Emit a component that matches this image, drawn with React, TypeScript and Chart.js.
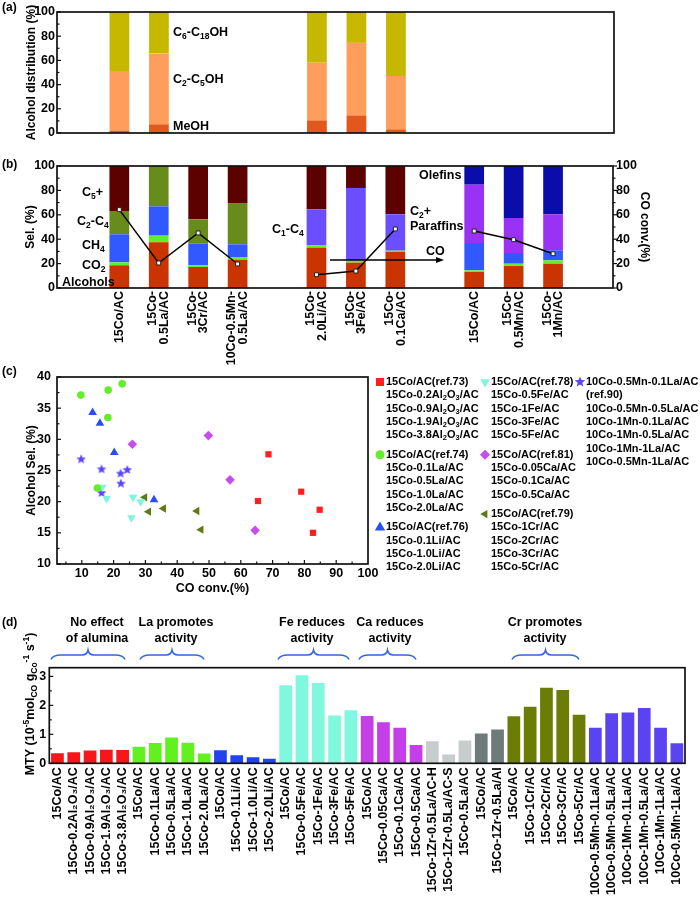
import React, { useEffect, useRef } from 'react';
import { Chart, registerables } from 'chart.js';

Chart.register(...registerables);

const FONT = '"Liberation Sans", Arial, Helvetica, sans-serif';
Chart.defaults.font.family = FONT;
Chart.defaults.font.weight = 'bold' as any;
Chart.defaults.color = '#000';

// ================= DATA =================
// (a) & (b) categories (null = empty slot)
const bCategories: (string[] | null)[] = [
  ['15Co/AC'], ['15Co-', '0.5La/AC'], ['15Co-', '3Cr/AC'], ['10Co-0.5Mn-', '0.5La/AC'], null,
  ['15Co-', '2.0Li/AC'], ['15Co-', '3Fe/AC'], ['15Co-', '0.1Ca/AC'], null,
  ['15Co/AC'], ['15Co-', '0.5Mn/AC'], ['15Co-', '1Mn/AC'],
];

// (a) alcohol distribution (%), stacked segments
const aMeOH = [1.9, 7.1, null, null, null, 10.4, 14.5, 3.0, null, null, null, null];
const aC2C5OH = [49.3, 58.7, null, null, null, 47.7, 60.0, 44.1, null, null, null, null];
const aC6C18OH = [48.8, 34.2, null, null, null, 41.9, 25.5, 52.9, null, null, null, null];

// (b) selectivity (%), stacked segments
const bAlcohols = [18.6, 37.4, 17.2, 23.2, null, 33.1, 20.8, 29.5, null, 13.1, 18.0, 19.9];
const bCO2 = [2.4, 5.5, 1.4, 2.2, null, 2.1, 1.9, 1.1, null, 1.4, 1.9, 2.8];
const bCH4 = [23.0, 24.0, 17.7, 10.4, null, null, null, null, null, 22.4, 8.8, 8.2];
const bC2C4 = [19.1, 33.1, 20.0, 33.9, null, null, null, null, null, null, null, null];
const bC1C4 = [null, null, null, null, null, 29.3, 59.3, 29.8, null, null, null, null];
const bC2Paraffins = [null, null, null, null, null, null, null, null, null, 47.8, 28.7, 29.5];
const bC5plus = [36.9, 0, 43.7, 30.3, null, 35.5, 18.0, 39.6, null, null, null, null];
const bOlefins = [null, null, null, null, null, null, null, null, null, 15.3, 42.6, 39.6];
// (b) CO conversion (%)
const bCOconv = [64.2, 20.5, 45.1, 19.7, null, 10.9, 13.9, 48.4, null, 46.7, 39.6, 28.1];

// (c) scatter: CO conv. (%) vs alcohol sel. (%)
const c73X = [68.7, 65.4, 79.0, 84.8, 82.7];
const c73Y = [27.6, 20.1, 21.6, 18.7, 15.0];
const c74X = [9.7, 18.3, 22.7, 18.2, 14.9];
const c74Y = [37.1, 37.9, 38.9, 33.5, 22.2];
const c76X = [13.4, 15.7, 20.2, 32.7];
const c76Y = [34.3, 32.6, 27.9, 20.3];
const c78X = [16.4, 17.8, 26.1, 28.5, 25.6];
const c78Y = [22.3, 20.5, 20.7, 20.0, 17.4];
const c79X = [29.8, 31.0, 35.7, 46.2, 47.5];
const c79Y = [20.7, 18.4, 18.9, 18.5, 15.5];
const c81X = [25.9, 49.8, 56.6, 64.5];
const c81Y = [29.2, 30.6, 23.5, 15.4];
const c90X = [9.8, 16.2, 22.2, 24.3, 22.3, 16.2];
const c90Y = [26.8, 25.2, 24.5, 25.1, 22.9, 21.4];

const c73Names = ['15Co/AC(ref.73)', '15Co-0.2Al_{2}O_{3}/AC', '15Co-0.9Al_{2}O_{3}/AC', '15Co-1.9Al_{2}O_{3}/AC', '15Co-3.8Al_{2}O_{3}/AC'];
const c74Names = ['15Co/AC(ref.74)', '15Co-0.1La/AC', '15Co-0.5La/AC', '15Co-1.0La/AC', '15Co-2.0La/AC'];
const c76Names = ['15Co/AC(ref.76)', '15Co-0.1Li/AC', '15Co-1.0Li/AC', '15Co-2.0Li/AC'];
const c78Names = ['15Co/AC(ref.78)', '15Co-0.5Fe/AC', '15Co-1Fe/AC', '15Co-3Fe/AC', '15Co-5Fe/AC'];
const c81Names = ['15Co/AC(ref.81)', '15Co-0.05Ca/AC', '15Co-0.1Ca/AC', '15Co-0.5Ca/AC'];
const c79Names = ['15Co/AC(ref.79)', '15Co-1Cr/AC', '15Co-2Cr/AC', '15Co-3Cr/AC', '15Co-5Cr/AC'];
const c90Names = ['10Co-0.5Mn-0.1La/AC', '(ref.90)', '10Co-0.5Mn-0.5La/AC', '10Co-1Mn-0.1La/AC', '10Co-1Mn-0.5La/AC', '10Co-1Mn-1La/AC', '10Co-0.5Mn-1La/AC'];

// (d) MTY
const dLabels = [
  '15Co/AC', '15Co-0.2Al₂O₃/AC', '15Co-0.9Al₂O₃/AC', '15Co-1.9Al₂O₃/AC', '15Co-3.8Al₂O₃/AC',
  '15Co/AC', '15Co-0.1La/AC', '15Co-0.5La/AC', '15Co-1.0La/AC', '15Co-2.0La/AC',
  '15Co/AC', '15Co-0.1Li/AC', '15Co-1.0Li/AC', '15Co-2.0Li/AC',
  '15Co/AC', '15Co-0.5Fe/AC', '15Co-1Fe/AC', '15Co-3Fe/AC', '15Co-5Fe/AC',
  '15Co/AC', '15Co-0.05Ca/AC', '15Co-0.1Ca/AC', '15Co-0.5Ca/AC',
  '15Co-1Zr-0.5La/AC-H', '15Co-1Zr-0.5La/AC-S', '15Co-0.5La/AC',
  '15Co/AC', '15Co-1Zr-0.5La/Al',
  '15Co/AC', '15Co-1Cr/AC', '15Co-2Cr/AC', '15Co-3Cr/AC', '15Co-5Cr/AC',
  '10Co-0.5Mn-0.1La/AC', '10Co-0.5Mn-0.5La/AC', '10Co-1Mn-0.1La/AC', '10Co-1Mn-0.5La/AC', '10Co-1Mn-1La/AC', '10Co-0.5Mn-1La/AC',
];
const dValues = [
  0.35, 0.38, 0.44, 0.47, 0.46,
  0.57, 0.70, 0.89, 0.71, 0.34,
  0.45, 0.28, 0.21, 0.16,
  2.69, 3.04, 2.77, 1.65, 1.83,
  1.63, 1.42, 1.23, 0.63,
  0.76, 0.30, 0.79,
  1.03, 1.17,
  1.62, 1.95, 2.61, 2.53, 1.68,
  1.23, 1.73, 1.75, 1.91, 1.23, 0.69,
];
const dGroupSizes = [5, 5, 4, 5, 4, 3, 2, 5, 6];
const dGroupColors = ['#f5171b', '#62f01e', '#2142ee', '#7ff8de', '#c53fe8', '#c7cccc', '#6d7b7b', '#6b7d05', '#5a44f2'];
const dNotes = [
  ['No effect', 'of alumina'], ['La promotes', 'activity'], ['Fe reduces', 'activity'],
  ['Ca reduces', 'activity'], ['Cr promotes', 'activity'],
];

// ================= HELPERS =================
type Seg = { t: string; k: number };
function parseRich(s: string): Seg[] {
  const out: Seg[] = [];
  let i = 0;
  let buf = '';
  while (i < s.length) {
    const c = s[i];
    if ((c === '_' || c === '^') && s[i + 1] === '{') {
      if (buf) { out.push({ t: buf, k: 0 }); buf = ''; }
      const end = s.indexOf('}', i);
      out.push({ t: s.slice(i + 2, end), k: c === '_' ? 1 : 2 });
      i = end + 1;
    } else { buf += c; i++; }
  }
  if (buf) out.push({ t: buf, k: 0 });
  return out;
}
function drawRich(ctx: CanvasRenderingContext2D, s: string, x: number, y: number, size: number,
  align: 'left' | 'center' | 'right' = 'left', rot = 0, color = '#000') {
  const segs = parseRich(s);
  const fontFor = (k: number) => `bold ${k ? size * 0.68 : size}px ${FONT}`;
  let total = 0;
  const widths = segs.map((sg) => { ctx.font = fontFor(sg.k); const w = ctx.measureText(sg.t).width; total += w; return w; });
  ctx.save();
  ctx.translate(x, y);
  if (rot) ctx.rotate(rot);
  ctx.fillStyle = color;
  ctx.textBaseline = 'middle';
  ctx.textAlign = 'left';
  let cx = align === 'left' ? 0 : align === 'center' ? -total / 2 : -total;
  segs.forEach((sg, i) => {
    ctx.font = fontFor(sg.k);
    const dy = sg.k === 1 ? size * 0.28 : sg.k === 2 ? -size * 0.38 : 0;
    ctx.fillText(sg.t, cx, dy);
    cx += widths[i];
  });
  ctx.restore();
}
function range(a: number, b: number, step: number) {
  const out: number[] = [];
  for (let v = a; v <= b + 1e-9; v += step) out.push(+v.toFixed(4));
  return out;
}
const xy = (arr: (number | null)[]) => arr.map((v, i) => ({ x: i, y: v }));

type TickDef = { axis: string; side: 'left' | 'right' | 'bottom'; major: number[]; minor: number[]; out?: boolean };
function frameAndTicks(defs: TickDef[]) {
  return {
    id: 'frameAndTicks',
    afterDraw(chart: any) {
      const { ctx, chartArea: ca } = chart;
      ctx.save();
      ctx.strokeStyle = '#111';
      ctx.lineWidth = 1.2;
      for (const d of defs) {
        const sc = chart.scales[d.axis];
        const draw = (v: number, len: number) => {
          const p = sc.getPixelForValue(v);
          ctx.beginPath();
          if (d.side === 'left') { ctx.moveTo(ca.left, p); ctx.lineTo(ca.left + (d.out ? -len : len), p); }
          else if (d.side === 'right') { ctx.moveTo(ca.right, p); ctx.lineTo(ca.right + (d.out ? len : -len), p); }
          else { ctx.moveTo(p, ca.bottom); ctx.lineTo(p, ca.bottom + (d.out ? len : -len)); }
          ctx.stroke();
        };
        d.major.forEach((v) => draw(v, 4));
        d.minor.forEach((v) => draw(v, 2.5));
      }
      ctx.lineWidth = 1.7;
      ctx.strokeRect(ca.left, ca.top, ca.right - ca.left, ca.bottom - ca.top);
      ctx.restore();
    },
  };
}

function starPath(g: CanvasRenderingContext2D, cx: number, cy: number, R: number) {
  const r = R * 0.45;
  g.beginPath();
  for (let i = 0; i < 10; i++) {
    const ang = -Math.PI / 2 + (i * Math.PI) / 5;
    const rr = i % 2 ? r : R;
    g.lineTo(cx + rr * Math.cos(ang), cy + rr * Math.sin(ang));
  }
  g.closePath();
}
function makeStar(R: number, color: string) {
  const c = document.createElement('canvas');
  const s = Math.ceil(R * 2 + 2);
  c.width = s; c.height = s;
  const g = c.getContext('2d')!;
  starPath(g, s / 2, s / 2, R);
  g.fillStyle = color;
  g.fill();
  return c;
}
function drawMarker(g: CanvasRenderingContext2D, shape: string, x: number, y: number, r: number, color: string) {
  g.save();
  g.fillStyle = color;
  g.beginPath();
  const s3 = Math.sqrt(3) / 2;
  switch (shape) {
    case 'square': g.rect(x - r, y - r, 2 * r, 2 * r); break;
    case 'circle': g.arc(x, y, r, 0, Math.PI * 2); break;
    case 'up': g.moveTo(x, y - r); g.lineTo(x + r * s3, y + r / 2); g.lineTo(x - r * s3, y + r / 2); break;
    case 'down': g.moveTo(x, y + r); g.lineTo(x + r * s3, y - r / 2); g.lineTo(x - r * s3, y - r / 2); break;
    case 'left': g.moveTo(x - r, y); g.lineTo(x + r / 2, y - r * s3); g.lineTo(x + r / 2, y + r * s3); break;
    case 'diamond': g.moveTo(x, y - r); g.lineTo(x + r, y); g.lineTo(x, y + r); g.lineTo(x - r, y); break;
    case 'star': starPath(g, x, y, r); break;
  }
  g.closePath();
  g.fill();
  g.restore();
}

const tickFont = { family: FONT, size: 12.5, weight: 'bold' as any };
const titleFont = { family: FONT, size: 12, weight: 'bold' as any };
const noGrid = { display: false, drawTicks: false };
const X_MIN = -1.58;
const X_MAX = 12.52;

function yAxis(o: { min: number; max: number; ticks: number[]; title?: string; tpad?: number; width: number; pad: number; stacked?: boolean; position?: string }) {
  return {
    position: o.position || 'left',
    min: o.min, max: o.max, stacked: !!o.stacked,
    grid: noGrid, border: { display: false },
    ticks: { padding: o.pad, color: '#000', font: tickFont },
    title: o.title ? { display: true, text: o.title, color: '#000', font: titleFont, padding: { top: o.tpad ?? 4, bottom: 0 } } : { display: false },
    afterBuildTicks: (s: any) => { s.ticks = o.ticks.map((v) => ({ value: v })); },
    afterFit: (s: any) => { s.width = o.width; },
  };
}

// ================= PANEL CONFIGS =================
const colA = { MeOH: '#e2581c', C2C5: '#ff9d5c', C6C18: '#c6b800' };
function makeA() {
  const ds = (label: string, data: (number | null)[], color: string) => ({
    label, data: xy(data), backgroundColor: color, stack: 's', categoryPercentage: 0.5, barPercentage: 1, borderWidth: 0,
  });
  return {
    type: 'bar',
    data: { datasets: [ds('MeOH', aMeOH, colA.MeOH), ds('C2-C5OH', aC2C5OH, colA.C2C5), ds('C6-C18OH', aC6C18OH, colA.C6C18)] },
    options: {
      responsive: false, animation: false,
      layout: { padding: { top: 12, left: 0, right: 86, bottom: 12 } },
      plugins: { legend: { display: false }, tooltip: { enabled: false } },
      scales: {
        x: { type: 'linear', min: X_MIN, max: X_MAX, display: false, stacked: true, offset: false },
        y: yAxis({ min: 0, max: 100, ticks: range(0, 100, 20), title: 'Alcohol distribution (%)', tpad: 24, width: 57, pad: 2, stacked: true }),
      },
    },
    plugins: [
      frameAndTicks([{ axis: 'y', side: 'left', major: range(0, 100, 20), minor: range(10, 90, 20) }]),
      {
        id: 'annA',
        afterDraw(chart: any) {
          const ctx = chart.ctx;
          drawRich(ctx, '(a)', 2, 8, 12);
          drawRich(ctx, 'C_{6}-C_{18}OH', 173, 33, 12.5);
          drawRich(ctx, 'C_{2}-C_{5}OH', 173, 80, 12.5);
          drawRich(ctx, 'MeOH', 173, 127, 12.5);
        },
      },
    ],
  };
}

const colB = {
  Alcohols: '#c93400', CO2: '#5ef02c', CH4: '#3159ff', C2C4: '#688c1c', C1C4: '#6a4eff',
  C2P: '#9a32f5', C5: '#5c0000', Olef: '#0c0caa',
};
const B_TOP = 145;
function makeB() {
  const ds = (label: string, data: (number | null)[], color: string) => ({
    type: 'bar', label, data: xy(data), backgroundColor: color, stack: 's', yAxisID: 'y', order: 1,
    categoryPercentage: 0.5, barPercentage: 1, borderWidth: 0,
  });
  return {
    type: 'bar',
    data: {
      datasets: [
        ds('Alcohols', bAlcohols, colB.Alcohols),
        ds('CO2', bCO2, colB.CO2),
        ds('CH4', bCH4, colB.CH4),
        ds('C2-C4', bC2C4, colB.C2C4),
        ds('C1-C4', bC1C4, colB.C1C4),
        ds('C2+ Paraffins', bC2Paraffins, colB.C2P),
        ds('C5+', bC5plus, colB.C5),
        ds('Olefins', bOlefins, colB.Olef),
        {
          type: 'line', label: 'CO conv.', data: xy(bCOconv), yAxisID: 'y2', order: 0,
          borderColor: '#000', borderWidth: 1.5, spanGaps: false,
          pointStyle: 'rect', pointRadius: 2.8, pointBackgroundColor: '#fff', pointBorderColor: '#222', pointBorderWidth: 1,
        },
      ],
    },
    options: {
      responsive: false, animation: false,
      layout: { padding: { top: 21, left: 0, right: 37, bottom: 82 } },
      plugins: { legend: { display: false }, tooltip: { enabled: false } },
      scales: {
        x: { type: 'linear', min: X_MIN, max: X_MAX, display: false, stacked: true, offset: false },
        y: yAxis({ min: 0, max: 100, ticks: range(0, 100, 20), title: 'Sel. (%)', tpad: 23, width: 57, pad: 2, stacked: true }),
        y2: yAxis({ min: 0, max: 100, ticks: range(0, 100, 20), title: 'CO conv.(%)', tpad: 11, width: 50, pad: 3, position: 'right' }),
      },
    },
    plugins: [
      frameAndTicks([
        { axis: 'y', side: 'left', major: range(0, 100, 20), minor: range(10, 90, 20) },
        { axis: 'y2', side: 'right', major: range(0, 100, 20), minor: range(10, 90, 20), out: true },
      ]),
      {
        id: 'annB',
        afterDraw(chart: any) {
          const { ctx, chartArea: ca, scales } = chart;
          const L = (yAbs: number) => yAbs - B_TOP;
          drawRich(ctx, '(b)', 2, L(165), 12);
          drawRich(ctx, 'C_{5}+', 82, L(193), 12.5);
          drawRich(ctx, 'C_{2}-C_{4}', 77, L(222), 12.5);
          drawRich(ctx, 'CH_{4}', 82, L(246), 12.5);
          drawRich(ctx, 'CO_{2}', 82, L(266), 12.5);
          drawRich(ctx, 'Alcohols', 62, L(283), 12.5);
          drawRich(ctx, 'C_{1}-C_{4}', 272, L(230), 12.5);
          drawRich(ctx, 'Olefins', 419, L(176), 12.5);
          drawRich(ctx, 'C_{2}+', 410, L(212), 12.5);
          drawRich(ctx, 'Paraffins', 410, L(227), 12.5);
          drawRich(ctx, 'CO', 426, L(252), 12.5);
          // arrow
          const ay = L(260);
          ctx.save();
          ctx.strokeStyle = '#000'; ctx.fillStyle = '#000'; ctx.lineWidth = 1.3;
          ctx.beginPath(); ctx.moveTo(330, ay); ctx.lineTo(438, ay); ctx.stroke();
          ctx.beginPath(); ctx.moveTo(444, ay); ctx.lineTo(436, ay - 3); ctx.lineTo(436, ay + 3); ctx.closePath(); ctx.fill();
          ctx.restore();
          // x category labels
          bCategories.forEach((lines, i) => {
            if (!lines) return;
            const cx = scales.x.getPixelForValue(i);
            lines.forEach((ln, j) => {
              const off = (j - (lines.length - 1) / 2) * 11.5;
              drawRich(ctx, ln, cx + off, ca.bottom + 3, 12.5, 'right', -Math.PI / 2);
            });
          });
        },
      },
    ],
  };
}

const C_TOP = 360;
const cStyles = [
  { shape: 'square', color: '#ff1f1f' },
  { shape: 'circle', color: '#62ee2a' },
  { shape: 'up', color: '#2a4cff' },
  { shape: 'down', color: '#7ff5de' },
  { shape: 'left', color: '#5f7a12' },
  { shape: 'diamond', color: '#c84cf0' },
  { shape: 'star', color: '#5b45ff' },
];
function makeC() {
  const series = [
    { xs: c73X, ys: c73Y, names: c73Names },
    { xs: c74X, ys: c74Y, names: c74Names },
    { xs: c76X, ys: c76Y, names: c76Names },
    { xs: c78X, ys: c78Y, names: c78Names },
    { xs: c79X, ys: c79Y, names: c79Names },
    { xs: c81X, ys: c81Y, names: c81Names },
    { xs: c90X, ys: c90Y, names: c90Names },
  ];
  const pt: Record<string, any> = {
    square: { pointStyle: 'rect', pointRadius: 4.4 },
    circle: { pointStyle: 'circle', pointRadius: 3.8 },
    up: { pointStyle: 'triangle', pointRadius: 5, rotation: 0 },
    down: { pointStyle: 'triangle', pointRadius: 5, rotation: 180 },
    left: { pointStyle: 'triangle', pointRadius: 4.8, rotation: 270 },
    diamond: { pointStyle: 'rectRot', pointRadius: 4.8 },
    star: { pointStyle: makeStar(5, cStyles[6].color), pointRadius: 5 },
  };
  const datasets = series.map((s, k) => ({
    label: s.names[0],
    data: s.xs.map((x, i) => ({ x, y: s.ys[i] })),
    backgroundColor: cStyles[k].color,
    borderColor: cStyles[k].color,
    borderWidth: 0,
    pointBorderWidth: 0,
    ...pt[cStyles[k].shape],
  }));
  return {
    type: 'scatter',
    data: { datasets },
    options: {
      responsive: false, animation: false,
      layout: { padding: { top: 17, left: 0, right: 332, bottom: 0 } },
      plugins: { legend: { display: false }, tooltip: { enabled: false } },
      scales: {
        x: {
          type: 'linear', min: 2.2, max: 100,
          grid: noGrid, border: { display: false },
          ticks: { padding: 2.5, color: '#000', font: tickFont },
          title: { display: true, text: 'CO conv.(%)', color: '#000', font: { family: FONT, size: 12.5, weight: 'bold' }, padding: { top: 0, bottom: 4 } },
          afterBuildTicks: (s: any) => { s.ticks = range(10, 100, 10).map((v) => ({ value: v })); },
          afterFit: (s: any) => { s.height = 36; },
        },
        y: yAxis({ min: 10, max: 40, ticks: range(10, 40, 5), title: 'Alcohol Sel. (%)', tpad: 24, width: 57, pad: 6 }),
      },
    },
    plugins: [
      frameAndTicks([
        { axis: 'y', side: 'left', major: range(10, 40, 5), minor: range(12.5, 37.5, 5) },
        { axis: 'x', side: 'bottom', major: range(10, 90, 10), minor: range(5, 95, 10) },
      ]),
      {
        id: 'annC',
        afterDraw(chart: any) {
          const ctx = chart.ctx;
          const L = (yAbs: number) => yAbs - C_TOP;
          drawRich(ctx, '(c)', 2, L(372), 12);
          const cols = [
            { mx: 380, tx: 386, groups: [0, 1, 2] },
            { mx: 485, tx: 491, groups: [3, 5, 4] },
            { mx: 580, tx: 586, groups: [6] },
          ];
          const markR: Record<string, number> = { square: 4, circle: 4.5, up: 6, down: 5.5, left: 4.8, diamond: 5, star: 5.5 };
          const rowH = 13.3;
          cols.forEach((col) => {
            let y = 382;
            col.groups.forEach((g) => {
              const names = series[g].names;
              drawMarker(ctx, cStyles[g].shape, col.mx, L(y), markR[cStyles[g].shape], cStyles[g].color);
              names.forEach((n, i) => drawRich(ctx, n, col.tx, L(y + i * rowH), 11));
              y += (names.length - 1) * rowH + 19.5;
            });
          });
        },
      },
    ],
  };
}

const D_TOP = 595;
function makeD() {
  const colors: string[] = [];
  dGroupSizes.forEach((n, g) => { for (let i = 0; i < n; i++) colors.push(dGroupColors[g]); });
  const braces = [[51, 125], [140, 204], [278, 349], [359, 416], [512, 579]];
  const noteX = [97, 176, 312, 390, 545];
  return {
    type: 'bar',
    data: {
      labels: dLabels,
      datasets: [{ label: 'MTY', data: dValues, backgroundColor: colors, borderWidth: 0, categoryPercentage: 0.78, barPercentage: 1 }],
    },
    options: {
      responsive: false, animation: false,
      layout: { padding: { top: 72.7, left: 0, right: 15, bottom: 0 } },
      plugins: { legend: { display: false }, tooltip: { enabled: false } },
      scales: {
        x: {
          grid: noGrid, border: { display: false },
          ticks: { autoSkip: false, minRotation: 90, maxRotation: 90, padding: 4, color: '#000', font: tickFont },
          afterFit: (s: any) => { s.height = 133.7; },
        },
        y: yAxis({ min: 0, max: 3.3, ticks: [0, 1, 2, 3], width: 49.3, pad: 3 }),
      },
    },
    plugins: [
      frameAndTicks([{ axis: 'y', side: 'left', major: [0, 1, 2, 3], minor: [0.5, 1.5, 2.5] }]),
      {
        id: 'annD',
        afterDraw(chart: any) {
          const ctx = chart.ctx;
          const L = (yAbs: number) => yAbs - D_TOP;
          drawRich(ctx, '(d)', 2, L(623), 12);
          dNotes.forEach((lines, i) => {
            drawRich(ctx, lines[0], noteX[i], L(623), 12.5, 'center');
            drawRich(ctx, lines[1], noteX[i], L(639), 12.5, 'center');
          });
          ctx.save();
          ctx.strokeStyle = '#3566e0';
          ctx.lineWidth = 1.5;
          const by = L(655);
          braces.forEach(([x1, x2]) => {
            const xm = (x1 + x2) / 2;
            ctx.beginPath();
            ctx.moveTo(x1, by + 4.5);
            ctx.quadraticCurveTo(x1 + 2, by, x1 + 10, by);
            ctx.lineTo(xm - 6, by);
            ctx.quadraticCurveTo(xm - 1, by, xm, by - 5);
            ctx.quadraticCurveTo(xm + 1, by, xm + 6, by);
            ctx.lineTo(x2 - 10, by);
            ctx.quadraticCurveTo(x2 - 2, by, x2, by + 4.5);
            ctx.stroke();
          });
          ctx.restore();
          drawRich(ctx, 'MTY (10^{-5}mol_{CO} g_{Co}^{-1} s^{-1})', 31, L(704), 12.5, 'center', -Math.PI / 2);
        },
      },
    ],
  };
}

// ================= COMPONENTS =================
function ChartBox({ left, top, width, height, make }: { left: number; top: number; width: number; height: number; make: () => any }) {
  const ref = useRef<HTMLCanvasElement>(null);
  useEffect(() => {
    const chart = new Chart(ref.current as HTMLCanvasElement, make());
    return () => chart.destroy();
  }, []);
  return (
    <div style={{ position: 'absolute', left, top, width, height }}>
      <canvas ref={ref} width={width} height={height} style={{ width, height, display: 'block' }} />
    </div>
  );
}

export default function App() {
  return (
    <div style={{ position: 'absolute', left: 0, top: 0, width: 700, height: 897, background: '#fff', overflow: 'hidden' }}>
      <ChartBox left={0} top={0} width={700} height={145} make={makeA} />
      <ChartBox left={0} top={B_TOP} width={700} height={225} make={makeB} />
      <ChartBox left={0} top={C_TOP} width={700} height={240} make={makeC} />
      <ChartBox left={0} top={D_TOP} width={700} height={302} make={makeD} />
    </div>
  );
}
